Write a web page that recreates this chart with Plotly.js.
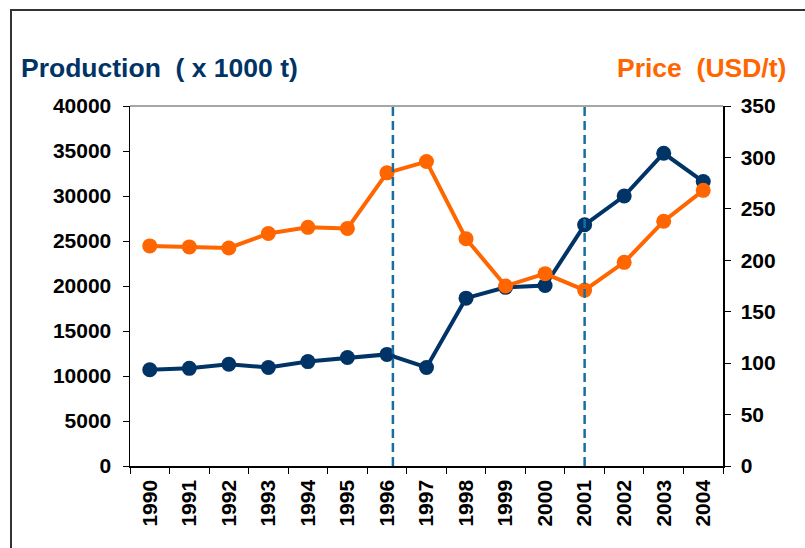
<!DOCTYPE html>
<html>
<head>
<meta charset="utf-8">
<script src="https://cdn.plot.ly/plotly-3.0.1.min.js"></script>
<style>
html,body{margin:0;padding:0;background:#fff;}
#wrap{position:relative;width:805px;height:548px;overflow:hidden;}
#chart{width:805px;height:548px;}
#frame{position:absolute;left:10px;top:9px;width:1000px;height:1000px;border-left:2px solid #333;border-top:2px solid #333;pointer-events:none;}
</style>
</head>
<body>
<div id="wrap"><div id="chart"></div><div id="frame"></div></div>
<script>
const years = ['1990','1991','1992','1993','1994','1995','1996','1997','1998','1999','2000','2001','2002','2003','2004'];
const production = [10700, 10850, 11300, 10950, 11600, 12050, 12400, 10950, 18650, 19850, 20050, 26800, 30000, 34750, 31600];
const price = [214, 213, 212, 226, 232, 231, 285, 296, 221, 175, 187, 171, 198, 238, 268];
const eventMarks = [6.15, 11];

const tickFont = {family: 'Liberation Sans, Arial, sans-serif', size: 21, color: '#000', weight: 'bold'};
const blue = 'rgb(0,51,102)';
const orange = 'rgb(255,102,0)';

const traces = [
  {x: years, y: production, type: 'scatter', mode: 'lines+markers', yaxis: 'y',
   line: {color: blue, width: 4}, marker: {color: blue, size: 15}},
  {x: years, y: price, type: 'scatter', mode: 'lines+markers', yaxis: 'y2',
   line: {color: orange, width: 4}, marker: {color: orange, size: 15}}
];

const shapes = eventMarks.map(v => ({type: 'line', xref: 'x', yref: 'paper', x0: v, x1: v, y0: 0, y1: 1,
  line: {color: 'rgb(25,110,160)', width: 2.5, dash: '9px,5px'}, layer: 'above'}));
shapes.push({type: 'line', xref: 'paper', yref: 'paper', x0: 0, x1: 1, y0: 1, y1: 1,
  line: {color: '#888', width: 1.5}});

const layout = {
  width: 805, height: 548,
  margin: {l: 130, r: 82, t: 106, b: 82},
  paper_bgcolor: '#fff', plot_bgcolor: '#fff',
  showlegend: false,
  xaxis: {type: 'category', tickson: 'boundaries', ticks: 'outside', ticklen: 6, tickcolor: '#000',
    showline: true, linecolor: '#000', linewidth: 1.5, showgrid: false, zeroline: false,
    tickangle: -90, tickfont: tickFont, range: [-0.5, 14.5], ticklabelstandoff: 4},
  yaxis: {range: [0, 40000], dtick: 5000, tickformat: 'd', ticks: 'outside', ticklen: 6, tickcolor: '#000',
    showline: true, linecolor: '#000', linewidth: 1.5, showgrid: false, zeroline: false,
    tickfont: tickFont, ticklabelstandoff: 7},
  yaxis2: {range: [0, 350], dtick: 50, tickformat: 'd', overlaying: 'y', side: 'right', ticks: 'outside', ticklen: 6, tickcolor: '#000',
    showline: true, linecolor: '#000', linewidth: 1.5, showgrid: false, zeroline: false, tickfont: tickFont,
    ticklabelstandoff: 6},
  annotations: [
    {text: 'Production  ( x 1000 t)', xref: 'paper', yref: 'paper', x: -0.188, y: 1.057, xanchor: 'left', yanchor: 'bottom',
     showarrow: false, font: {family: 'Liberation Sans, Arial, sans-serif', size: 26.5, color: blue, weight: 'bold'}},
    {text: 'Price  (USD/t)', xref: 'paper', yref: 'paper', x: 1.11, y: 1.057, xanchor: 'right', yanchor: 'bottom',
     showarrow: false, font: {family: 'Liberation Sans, Arial, sans-serif', size: 26.5, color: orange, weight: 'bold'}}
  ],
  shapes: shapes
};

Plotly.newPlot('chart', traces, layout, {displayModeBar: false, staticPlot: true});
</script>
</body>
</html>
